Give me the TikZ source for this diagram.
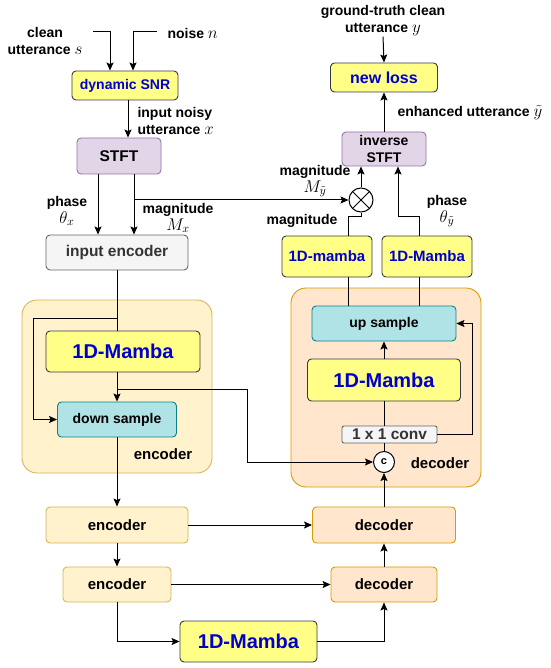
\RequirePackage{fix-cm}
\documentclass[tikz,border=0pt]{standalone}
\usepackage{fontspec}
\setmainfont{Liberation Sans}
\usepackage{tikz}
\usetikzlibrary{arrows.meta, positioning, calc}

\definecolor{mambafill}{HTML}{FFFF88}
\definecolor{mambaline}{HTML}{36393D}
\definecolor{mambatext}{HTML}{0000CC}
\definecolor{stftfill}{HTML}{E1D5E7}
\definecolor{stftline}{HTML}{9673A6}
\definecolor{grayfill}{HTML}{F5F5F5}
\definecolor{grayline}{HTML}{666666}
\definecolor{samplefill}{HTML}{B0E3E6}
\definecolor{sampleline}{HTML}{0E8088}
\definecolor{encfill}{HTML}{FFF2CC}
\definecolor{encline}{HTML}{D6B656}
\definecolor{decfill}{HTML}{FFE6CC}
\definecolor{decline}{HTML}{D79B00}

\newcommand{\setsz}[2]{\fontsize{#1}{#2}\selectfont}
\newcommand{\mth}[1]{{\fontsize{17}{17}\selectfont$#1$}}

\begin{document}
\begin{tikzpicture}[
    x=1pt, y=-1pt,
    >={Stealth[length=8pt, width=7pt, inset=1.5pt]},
    line width=1pt,
    box/.style={
        draw,
        rounded corners=4pt,
        line width=0.9pt,
        inner sep=0pt,
        align=center,
        font=\bfseries\setsz{14}{17}
    },
    mamba/.style={box, fill=mambafill, draw=mambaline, text=mambatext},
    stftbox/.style={box, fill=stftfill, draw=stftline, font=\bfseries\setsz{15.5}{17}},
    graybox/.style={box, fill=grayfill, draw=grayline, text=black!80},
    samplebox/.style={box, fill=samplefill, draw=sampleline},
    encstage/.style={box, fill=encfill, draw=encline, font=\bfseries\setsz{15}{17}},
    decstage/.style={box, fill=decfill, draw=decline, font=\bfseries\setsz{15}{17}},
    group/.style={draw, rounded corners=15pt, line width=0.9pt, inner sep=0pt},
    lbl/.style={inner sep=0pt, align=center, font=\bfseries\setsz{14}{17}}
]
\useasboundingbox (0,0) rectangle (550,668);

% Group boxes
\node[group, fill=encfill, draw=encline, minimum width=190, minimum height=173] (encgroup) at (117,386.5) {};
\node[group, fill=decfill, draw=decline, minimum width=190, minimum height=199] (decgroup) at (386,387.5) {};

% Nodes
\node[mamba, minimum width=106, minimum height=29] (snr) at (125,85.5) {dynamic SNR};
\node[stftbox, minimum width=84, minimum height=36] (stft) at (119,156) {STFT};
\node[graybox, minimum width=142, minimum height=35, font=\bfseries\setsz{15.5}{17}] (inenc) at (117,252.5) {input encoder};
\node[mamba, minimum width=154, minimum height=41, font=\bfseries\setsz{20}{22}] (encmamba) at (123,351.5) {1D-Mamba};
\node[samplebox, minimum width=119, minimum height=35] (down) at (117,419.5) {down sample};
\node[encstage, minimum width=142, minimum height=36] (enc1) at (117,525) {encoder};
\node[encstage, minimum width=108, minimum height=35] (enc2) at (117,584.5) {encoder};
\node[mamba, minimum width=137, minimum height=41, font=\bfseries\setsz{20}{22}] (midmamba) at (248.5,641.5) {1D-Mamba};
\node[decstage, minimum width=143, minimum height=36] (dec1) at (384,525) {decoder};
\node[decstage, minimum width=106, minimum height=35] (dec2) at (384,584.5) {decoder};

\node[samplebox, minimum width=144, minimum height=35] (up) at (384,323.5) {up sample};
\node[mamba, minimum width=153, minimum height=42, font=\bfseries\setsz{20}{22}] (decmamba) at (384,380) {1D-Mamba};
\node[graybox, rounded corners=2pt, minimum width=95, minimum height=17, font=\bfseries\setsz{15.5}{17}] (conv) at (389.5,434.5) {1 x 1 conv};
\node[circle, draw, fill=white, minimum size=21, inner sep=0pt, font=\bfseries\setsz{11}{12}] (cat) at (384,462) {c};

\node[mamba, minimum width=90, minimum height=41, font=\bfseries\setsz{15}{17}] (magmamba) at (327,256.5) {1D-mamba};
\node[mamba, minimum width=90, minimum height=41, font=\bfseries\setsz{15}{17}] (phmamba) at (427,256.5) {1D-Mamba};
\node[circle, draw, fill=white, minimum size=24, inner sep=0pt] (otimes) at (361,200) {};
\draw (otimes.45) -- (otimes.225) (otimes.135) -- (otimes.315);
\node[stftbox, minimum width=84, minimum height=34, font=\bfseries\setsz{14}{17}] (istft) at (384,149) {inverse\\STFT};
\node[mamba, minimum width=107, minimum height=29, font=\bfseries\setsz{16}{17}] (loss) at (384,77.5) {new loss};

% Labels
\node[lbl] (cleanlbl) at (45,41) {clean\\utterance \mth{s}};
\node[lbl, anchor=west] (noiselbl) at (167,33) {noise \mth{n}};
\node[lbl, align=left, anchor=west] (noisylbl) at (137,121) {input noisy\\utterance \mth{x}};
\node[lbl] (phxlbl) at (67,211) {phase\\\mth{\theta_x}};
\node[lbl] (mgxlbl) at (178,218) {magnitude\\\mth{M_x}};
\node[lbl] (mgylbl) at (315,181) {magnitude\\\mth{M_{\tilde y}}};
\node[lbl] (mglbl) at (302,221) {magnitude};
\node[lbl] (phylbl) at (447,211) {phase\\\mth{\theta_{\tilde y}}};
\node[lbl, anchor=west] (enhlbl) at (397,113) {enhanced utterance \mth{\tilde y}};
\node[lbl] (gtlbl) at (383,21) {ground-truth clean\\utterance \mth{y}};
\node[lbl, font=\bfseries\setsz{15}{17}] (enclbl) at (163,454) {encoder};
\node[lbl, font=\bfseries\setsz{15}{17}] (declbl) at (440,463) {decoder};

% Inputs
\coordinate (cleanin) at (93,32);
\coordinate (noisein) at (157,32);
\draw[->] (cleanin) -| ([xshift=-15pt]snr.north);
\draw[->] (noisein) -| ([xshift=8pt]snr.north);
\draw[->] ([xshift=3pt]snr.south) coordinate (sn) -- (sn |- stft.north);

% STFT outputs
\draw[->] ([xshift=-21pt]stft.south) coordinate (ph) -- (ph |- inenc.north);
\draw[->] ([xshift=15pt]stft.south) coordinate (mg) -- (mg |- inenc.north);
\draw[->] (mg |- otimes) -- (otimes.west);

% Encoder block
\coordinate (skipin) at (117,318);
\coordinate (skipleft) at (33,318);
\coordinate (skipa) at (117,389);
\coordinate (skipturn) at (247,389);
\draw (inenc.south) -- (inenc.south |- encmamba.north);
\draw[->] (skipin) -- (skipleft) |- (down.west);
\draw[->] (down.north |- encmamba.south) -- (down.north);
\draw[->] (skipa) -- (skipturn) |- (cat.west);

% Encoder / decoder stages
\draw[->] (down.south) -- (enc1.north);
\draw[->] (enc1.south) -- (enc2.north);
\draw[->] (enc2.south) |- (midmamba.west);
\draw[->] (midmamba.east) -| (dec2.south);
\draw[->] (enc1.east) -- (dec1.west);
\draw[->] (enc2.east) -- (dec2.west);
\draw[->] (dec2.north) -- (dec1.south);
\draw[->] (dec1.north) -- (cat.south);

% Decoder block
\draw (cat.north) -- (cat.north |- conv.south);
\draw (cat.north |- conv.north) -- (cat.north |- decmamba.south);
\draw[->] (decmamba.north) -- (up.south);
\draw[->] (conv.east) -- ++(35,0) |- (up.east);
\draw ([xshift=21pt]magmamba.south) coordinate (ml) -- (ml |- up.north);
\draw ([xshift=-8pt]phmamba.south) coordinate (mr) -- (mr |- up.north);

% Output
\draw (ml |- magmamba.north) -- ++(0,-19) -| (otimes.south);
\draw[->] (mr |- phmamba.north) -- ++(0,-19) -| ([xshift=14pt]istft.south);
\draw[->] (otimes.north) -- (otimes.north |- istft.south);
\draw[->] (istft.north) -- (loss.south);
\draw[->] (gtlbl.south) -- (loss.north);

\end{tikzpicture}
\end{document}
